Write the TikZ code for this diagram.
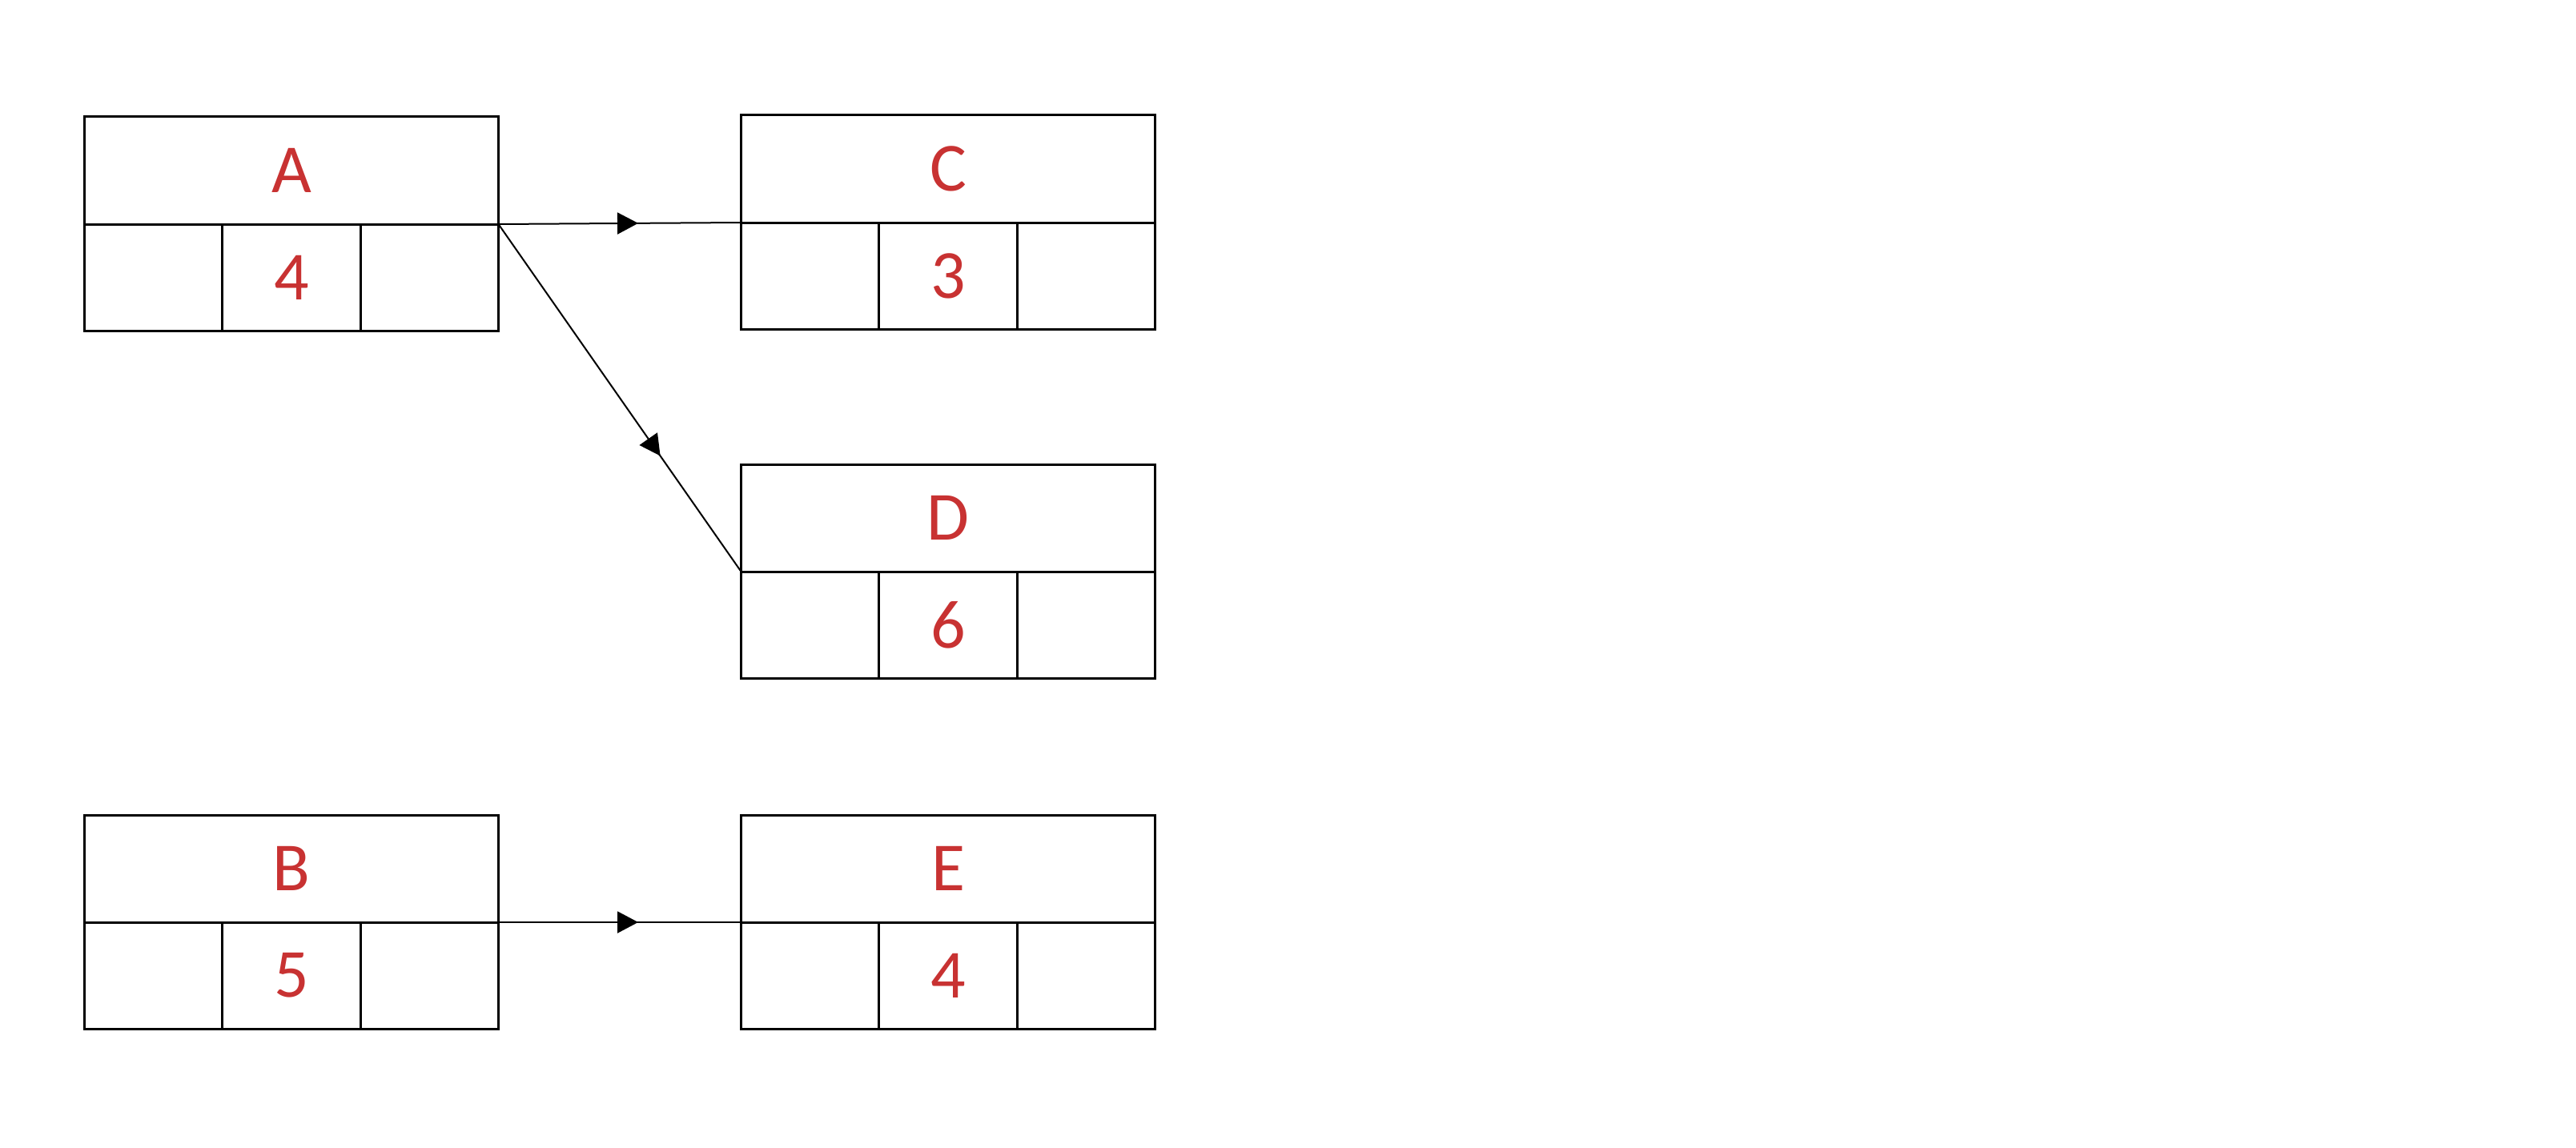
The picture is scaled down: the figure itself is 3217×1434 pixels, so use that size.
\documentclass[tikz,border=0pt]{standalone}
\usepackage{fontspec}
\setmainfont{Carlito}
\usetikzlibrary{arrows.meta,decorations.markings}
\definecolor{labelred}{RGB}{200,50,50}
\tikzset{
  topcell/.style={draw=black, line width=3pt, rectangle, inner sep=0pt, outer sep=0pt,
    minimum width=517pt, minimum height=134pt, text=labelred,
    font=\fontsize{86}{100}\selectfont},
  botcell/.style={draw=black, line width=3pt, rectangle, inner sep=0pt, outer sep=0pt,
    minimum width=172.33pt, minimum height=133pt, text=labelred,
    font=\fontsize{86}{100}\selectfont},
  conn/.style={draw=black, line width=2pt},
  midarrow/.style={postaction={decorate}, decoration={markings,
    mark=at position #1 with {\arrow{Triangle[length=26pt,width=27pt]}}}}
}
\newcommand\recbox[5]{%
  \node[topcell, anchor=north west] (#1) at (#2,#3) {#4};
  \node[botcell, anchor=north west] (#1-1) at (#1.south west) {};
  \node[botcell, anchor=west] (#1-2) at (#1-1.east) {#5};
  \node[botcell, anchor=west] (#1-3) at (#1-2.east) {};
}
\begin{document}
\begin{tikzpicture}[x=1pt, y=-1pt]
  \useasboundingbox[fill=white] (0,0) rectangle (3217,1434);
  \recbox{A}{105.5}{146}{A}{4}
  \recbox{C}{925.5}{144}{C}{3}
  \recbox{D}{925.5}{580}{D}{6}
  \recbox{B}{105.5}{1018}{B}{5}
  \recbox{E}{925.5}{1018}{E}{4}
  \draw[conn, midarrow=0.576] (A.south east) -- (C.south west);
  \draw[conn, midarrow=0.667] (A.south east) -- (D.south west);
  \draw[conn, midarrow=0.576] (B.south east) -- (E.south west);
\end{tikzpicture}
\end{document}
